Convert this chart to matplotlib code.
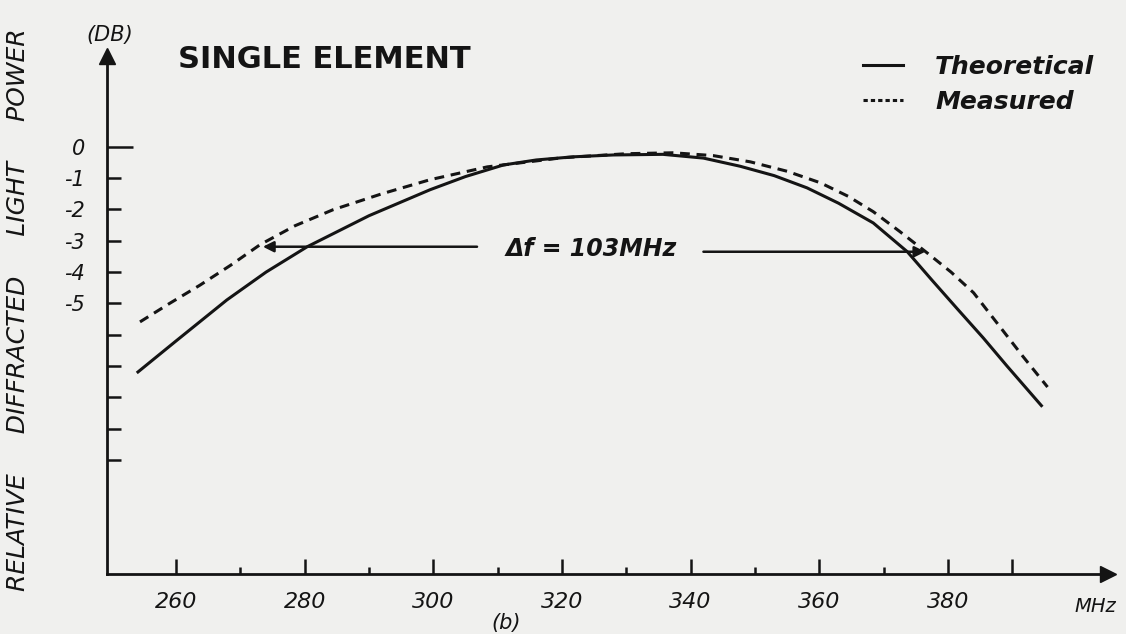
import matplotlib
matplotlib.use("Agg")
import matplotlib.pyplot as plt
from matplotlib.lines import Line2D

# Theoretical curve (frequency MHz, relative power dB)
theo_freq = [253.9, 260.0, 267.9, 274.0, 280.4, 290.0, 299.5, 305.0, 310.9,
             316.0, 321.7, 328.0, 335.7, 342.0, 347.7, 353.0, 358.1, 363.0,
             368.4, 373.7, 377.5, 381.5, 385.5, 389.2, 394.7]
theo_db = [-7.22, -6.20, -4.89, -4.00, -3.19, -2.20, -1.37, -0.95, -0.58,
           -0.42, -0.32, -0.26, -0.24, -0.36, -0.62, -0.92, -1.31, -1.80,
           -2.43, -3.35, -4.25, -5.18, -6.10, -7.00, -8.30]

# Measured curve
meas_freq = [254.4, 259.0, 263.7, 268.5, 273.1, 278.5, 284.4, 292.0, 299.5,
             308.4, 320.0, 330.0, 337.3, 343.5, 349.3, 355.0, 360.2, 364.5,
             368.4, 372.5, 376.8, 380.5, 384.0, 391.7, 395.5]
meas_db = [-5.59, -5.00, -4.42, -3.78, -3.12, -2.52, -2.01, -1.50, -1.05,
           -0.64, -0.35, -0.22, -0.19, -0.28, -0.48, -0.78, -1.15, -1.58,
           -2.07, -2.70, -3.39, -4.00, -4.66, -6.70, -7.67]

# -3 dB bandwidth markers
bw_low, bw_high = 273.5, 376.5
bw_level_left, bw_level_right = -3.19, -3.35
bw_label = "Δf = 103MHz"

x_major = [260, 280, 300, 320, 340, 360, 380, 390]
x_major_labels = ["260", "280", "300", "320", "340", "360", "380", ""]
x_minor = [270, 290, 310, 330, 350, 370]
y_minor = [-1, -2, -3, -4, -5, -6, -7, -8, -9, -10]
y_minor_labels = ["-1", "-2", "-3", "-4", "-5", "", "", "", "", ""]

ink = "#141414"
paper = "#f0f0ee"

plt.rcParams["font.family"] = "DejaVu Sans"
plt.rcParams["font.style"] = "italic"

W, H = 1126, 634
fig = plt.figure(figsize=(W / 100, H / 100), dpi=100, facecolor=paper)

# axes placed in pixel coordinates of the original scan
left_px, right_px, top_px, bottom_px = 107, 1108, 56, 574
ax = fig.add_axes([left_px / W, 1 - bottom_px / H,
                   (right_px - left_px) / W, (bottom_px - top_px) / H])
ax.set_facecolor(paper)
ax.set_xlim(249.27, 404.9)
ax.set_ylim(-13.64, 2.9)

ax.plot(theo_freq, theo_db, color=ink, lw=2.2, solid_capstyle="butt",
        label="Theoretical")
ax.plot(meas_freq, meas_db, color=ink, lw=2.2, dashes=(3.2, 2.2),
        label="Measured")

# bandwidth arrows
ax.annotate("", xy=(bw_low, bw_level_left), xytext=(306.8, bw_level_left),
            arrowprops=dict(arrowstyle="-|>", color=ink, lw=1.8,
                            mutation_scale=16, shrinkA=0, shrinkB=0))
ax.annotate("", xy=(bw_high, bw_level_right), xytext=(342.0, bw_level_right),
            arrowprops=dict(arrowstyle="-|>", color=ink, lw=1.8,
                            mutation_scale=16, shrinkA=0, shrinkB=0))
ax.text(324.6, -3.25, bw_label, fontsize=17, fontweight="bold",
        color=ink, ha="center", va="center")

# axis styling: only left and bottom, with arrow heads
for side in ["top", "right"]:
    ax.spines[side].set_visible(False)
for side in ["left", "bottom"]:
    ax.spines[side].set_linewidth(2)
    ax.spines[side].set_color(ink)
ax.plot(1, 0, marker=">", color=ink, ms=11, transform=ax.transAxes,
        clip_on=False)
ax.plot(0, 1, marker="^", color=ink, ms=11, transform=ax.transAxes,
        clip_on=False)

ax.set_xticks(x_major)
ax.set_xticklabels(x_major_labels)
ax.set_xticks(x_minor, minor=True)
ax.set_yticks([0])
ax.set_yticklabels(["0"])
ax.set_yticks(y_minor, labels=y_minor_labels, minor=True)
ax.tick_params(axis="x", which="major", direction="in", length=11,
               width=1.8, color=ink, labelcolor=ink, labelsize=16, pad=13)
ax.tick_params(axis="x", which="minor", direction="in", length=5,
               width=1.8, color=ink)
ax.tick_params(axis="y", which="major", direction="in", length=19,
               width=1.8, color=ink, labelcolor=ink, labelsize=15, pad=16)
ax.tick_params(axis="y", which="minor", direction="in", length=10,
               width=1.8, color=ink, labelcolor=ink, labelsize=15, pad=16)

# legend
handles = [Line2D([], [], color=ink, lw=2.2),
           Line2D([], [], color=ink, lw=2.2, dashes=(1.4, 1.0))]
fig.legend(handles, ["Theoretical", "Measured"], loc="upper left",
           bbox_to_anchor=(840 / W, 1 - 32 / H), frameon=False,
           prop=dict(size=18, weight="bold", style="italic"),
           handlelength=1.6, handletextpad=1.3, labelspacing=0.45,
           labelcolor=ink)

# titles and labels
fig.text(178 / W, 1 - 60 / H, "SINGLE ELEMENT", fontsize=22,
         fontweight="bold", fontstyle="normal", color=ink, va="center")
fig.text(110 / W, 1 - 35 / H, "(DB)", fontsize=15, color=ink,
         ha="center", va="center")
fig.text(18 / W, 1 - 310 / H, "RELATIVE     DIFFRACTED     LIGHT     POWER",
         rotation=90, fontsize=18, color=ink, ha="center", va="center")
fig.text(1095 / W, 1 - 607 / H, "MHz", fontsize=14, color=ink,
         ha="center", va="center")
fig.text(506 / W, 1 - 623 / H, "(b)", fontsize=15, color=ink,
         ha="center", va="center")

fig.savefig("out.png", dpi=100, facecolor=paper)
